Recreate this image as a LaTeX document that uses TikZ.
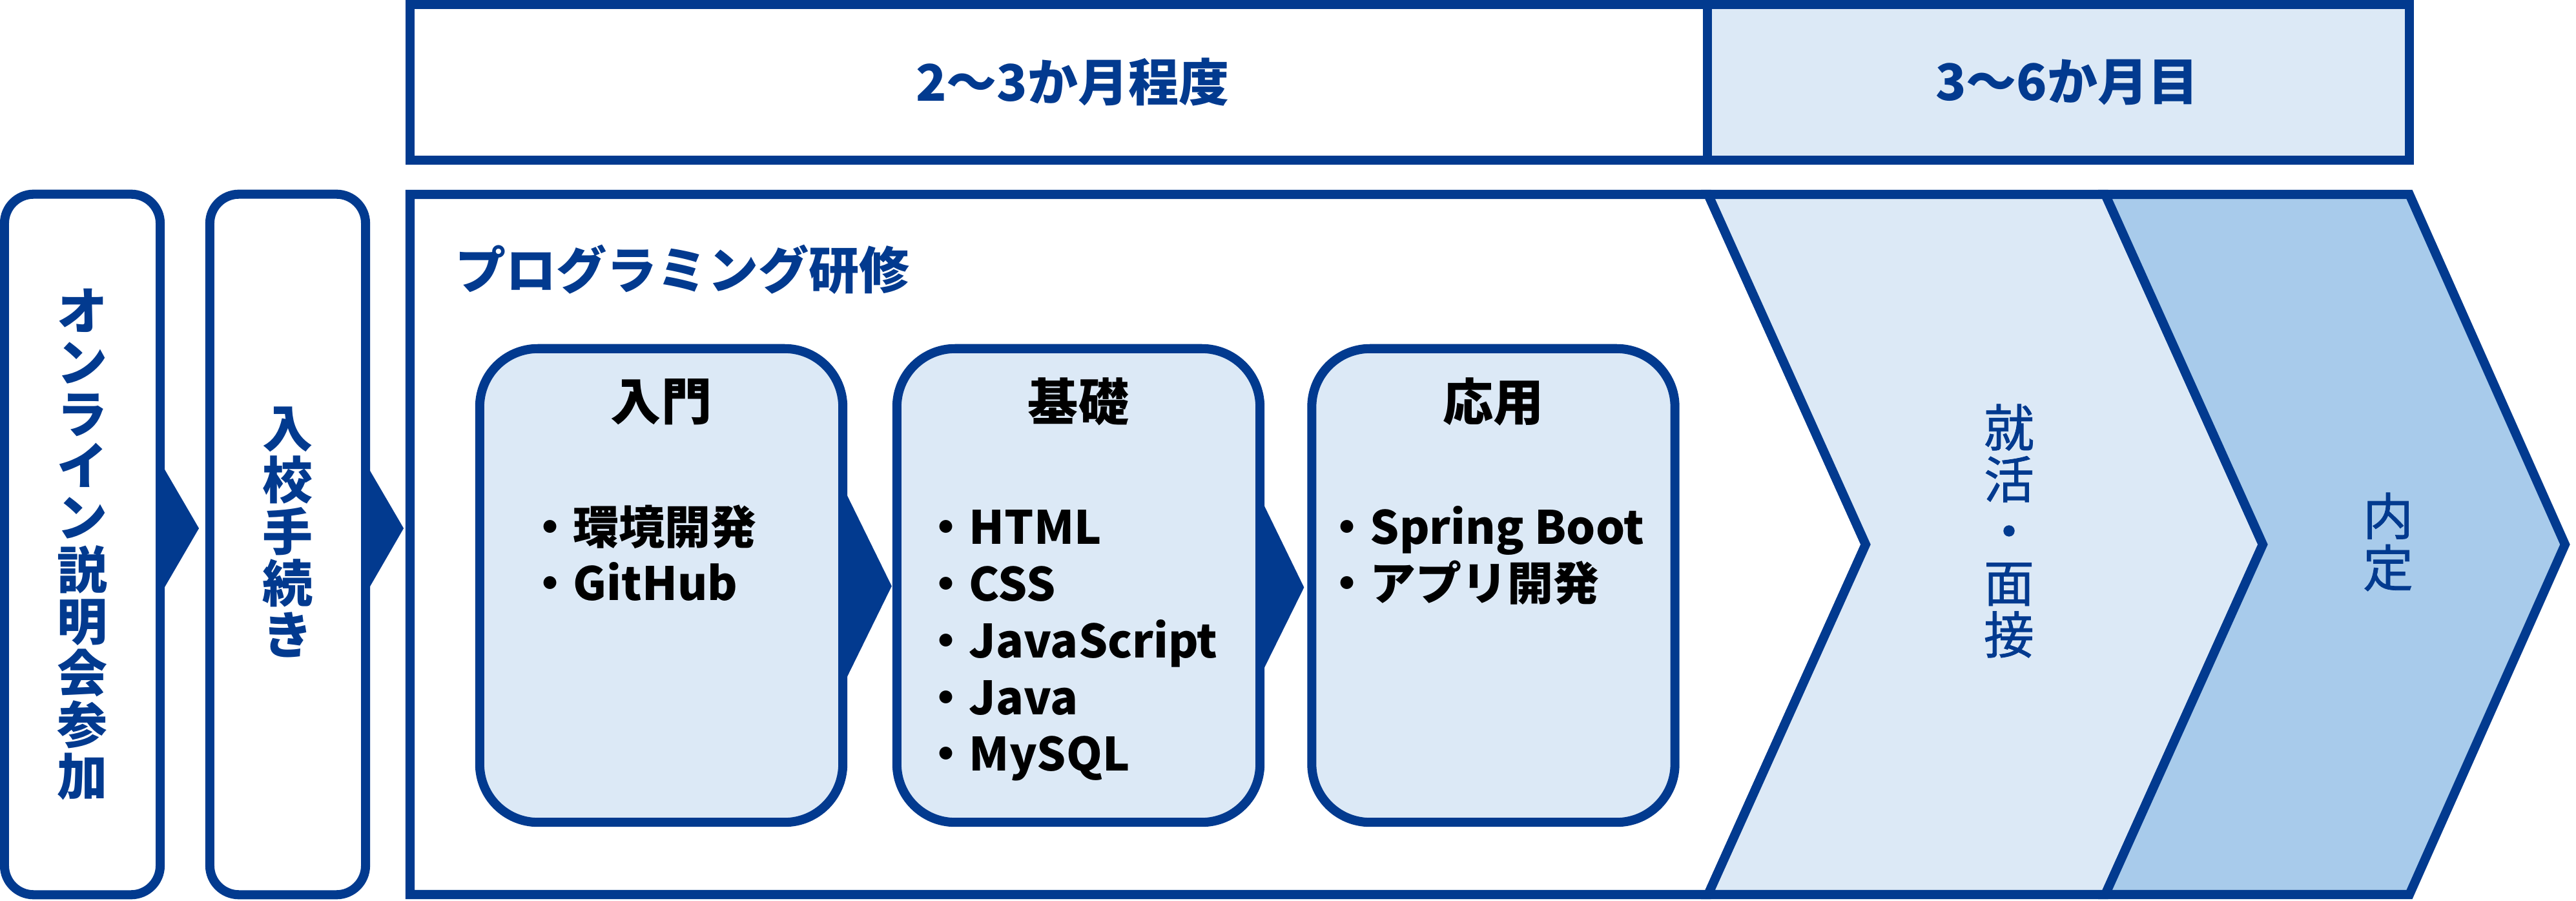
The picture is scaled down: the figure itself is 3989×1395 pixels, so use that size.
\documentclass[tikz,border=0pt]{standalone}
\usepackage{fontspec}
\setmainfont{Noto Sans CJK JP}
\newfontfamily\stagefont[FakeBold=1]{Noto Sans CJK JP}
\usetikzlibrary{positioning,calc}
\definecolor{navy}{HTML}{023A8F}
\definecolor{pale}{HTML}{DCE9F6}
\definecolor{sky}{HTML}{A8CBEB}

\begin{document}
\begin{tikzpicture}[x=0.01cm,y=-0.01cm,
    outline/.style={draw=navy,line width=4pt,outer sep=0pt},
    entry/.style={outline,fill=white,rounded corners=0.45cm,
                  minimum width=2.41cm,minimum height=10.84cm},
    course/.style={outline,fill=pale,rounded corners=0.9cm,
                   minimum width=5.62cm,minimum height=7.33cm},
    bandtext/.style={text=navy,align=center,inner sep=0pt,
                     font=\bfseries\fontsize{22.2pt}{22.8pt}\selectfont},
    stagetext/.style={bandtext,font=\stagefont\fontsize{22.2pt}{22.8pt}\selectfont},
    heading/.style={inner sep=0pt,font=\bfseries\fontsize{22.2pt}{24pt}\selectfont},
    itemlist/.style={inner sep=0pt,align=left,anchor=base west,
                     font=\bfseries\fontsize{20.2pt}{25pt}\selectfont},
    pointer/.style={fill=navy}]
  \useasboundingbox (0,0) rectangle (3989,1395);
  % period band
  \draw[outline,fill=white] (635,7) rectangle (2644,248);
  \draw[outline,fill=pale] (2644,7) rectangle (3731,248);
  \node[bandtext] (term1) at (1661,127) {2～3か月程度};
  \node[bandtext] (term2) at (3201,127) {3～6か月目};
  % before the course
  \node[entry] (info) at (127.5,843) {};
  \node[entry] (apply) at (445.5,843) {};
  \node[bandtext] (infotext) at (info.center) {オ\\ン\\ラ\\イ\\ン\\説\\明\\会\\参\\加};
  \node[bandtext] (applytext) at ($(apply.center)+(0,-19)$) {入\\校\\手\\続\\き};
  \fill[pointer] ($(info.east)+(0,-128)$) -- ($(info.east)+(60,-25)$) -- ($(info.east)+(0,78)$) -- cycle;
  \fill[pointer] ($(apply.east)+(0,-126)$) -- ($(apply.east)+(59,-25)$) -- ($(apply.east)+(0,77)$) -- cycle;
  % course frame and job hunting chevrons
  \draw[outline,fill=white] (635,301) -- (2645,301) -- (2889,843) -- (2645,1385) -- (635,1385) -- cycle;
  \draw[outline,fill=pale] (2645,301) -- (3260,301) -- (3504,843) -- (3260,1385) -- (2645,1385) -- (2889,843) -- cycle;
  \draw[outline,fill=sky] (3260,301) -- (3731,301) -- (3972,843) -- (3731,1385) -- (3260,1385) -- (3504,843) -- cycle;
  \node[bandtext,anchor=west] (training) at (705,417) {プログラミング研修};
  \node[stagetext] (hunt) at (3111,822) {就\\活\\・\\面\\接};
  \node[stagetext] (offer) at (3698,839) {内\\定};
  % course steps (list nodes sit on the baseline of their last line)
  \node[course] (intro) at (1024,906.5) {};
  \node[course] (basic) at (1670,906.5) {};
  \node[course] (advanced) at (2312.5,906.5) {};
  \node[heading] (introtitle) at ($(intro.north)+(0,82)$) {入門};
  \node[heading] (basictitle) at ($(basic.north)+(0,82)$) {基礎};
  \node[heading] (advancedtitle) at ($(advanced.north)+(0,82)$) {応用};
  \node[itemlist] (introitems) at (816,930) {・環境開発\\・GitHub};
  \node[itemlist] (basicitems) at (1429,1194) {・HTML\\・CSS\\・JavaScript\\・Java\\・MySQL};
  \node[itemlist] (advanceditems) at (2050,930) {・Spring Boot\\・アプリ開発};
  \fill[pointer] ($(intro.east)+(0,-153)$) -- ($(basic.west)+(-8,1)$) -- ($(intro.east)+(0,155)$) -- cycle;
  \fill[pointer] ($(basic.east)+(0,-137)$) -- ($(advanced.west)+(-12,3)$) -- ($(basic.east)+(0,141)$) -- cycle;
\end{tikzpicture}
\end{document}
